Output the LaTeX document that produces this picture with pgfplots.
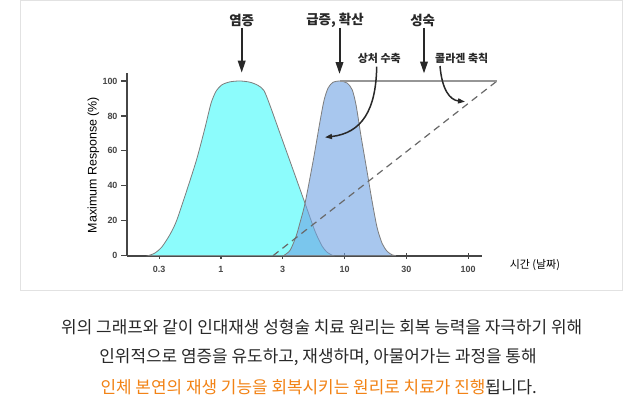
\documentclass[border=0pt]{standalone}
\usepackage{pgfplots}
\pgfplotsset{compat=1.18}
\usepackage{fontspec}
\setmainfont{Liberation Sans}
\newfontfamily\kr{Noto Sans CJK KR}
\usetikzlibrary{arrows.meta}
\definecolor{cyanfill}{RGB}{140,252,252}
\definecolor{bluefill}{RGB}{110,163,227}
\definecolor{edgegray}{RGB}{125,125,125}
\definecolor{axisgray}{RGB}{70,70,70}
\definecolor{boxgray}{RGB}{226,226,226}
\definecolor{txt}{RGB}{40,40,40}
\definecolor{orangetxt}{RGB}{242,130,20}
\begin{document}
\begin{tikzpicture}[x=1bp,y=1bp]
\path[use as bounding box, fill=white] (0,0) rectangle (640,395);
\draw[boxgray, line width=1bp] (20,394) rectangle (622,105);
\begin{axis}[
  at={(127bp,139.3bp)}, anchor=south west,
  scale only axis, width=354.7bp, height=182.4bp,
  xmin=-0.52, xmax=5.22, ymin=0, ymax=104.4,
  axis x line=bottom, axis y line=left,
  axis line style={-, axisgray, line width=1.6bp},
  xtick={0,1,2,3,4,5},
  xticklabels={0.3,1,3,10,30,100},
  ytick={0,20,40,60,80,100},
  xtick align=center, ytick align=outside,
  major tick length=6bp,
  tick style={axisgray, line width=1.2bp},
  tick label style={font=\fontsize{9}{10}\selectfont\bfseries, text=axisgray},
  xticklabel style={yshift=-4bp},
  /pgf/number format/assume math mode=true,
  clip=false,
  xlabel={\kr\fontsize{11}{12}\selectfont 시간 (날짜)},
  xlabel style={at={(axis description cs:1.150,-0.051)}, anchor=center, text=black},
  ylabel={Maximum Response (\%)},
  ylabel style={at={(axis description cs:-0.095,0.497)}, anchor=center, font=\fontsize{12.5}{14}\selectfont, text=black},
]
\addplot[fill=cyanfill, draw=edgegray, line width=0.8bp, smooth, tension=0.45] coordinates {
(-0.178,0) (-0.070,1.5) (0.044,5) (0.173,12) (0.282,20) (0.444,37) (0.606,55)
(0.741,73) (0.838,87) (0.919,94) (1.016,97.8) (1.146,99.5) (1.308,100)
(1.470,99.3) (1.599,97.5) (1.697,94.5) (1.794,86) (1.956,70) (2.159,50)
(2.361,30) (2.523,14) (2.637,5.5) (2.718,2) (2.815,0)
} \closedcycle;
\addplot[fill=bluefill, fill opacity=0.6, draw=edgegray, line width=0.8bp, smooth, tension=0.45] coordinates {
(2.010,0) (2.118,3) (2.215,11) (2.280,19) (2.361,30) (2.496,55) (2.604,77)
(2.669,89) (2.734,96) (2.815,99.3) (2.929,100) (3.043,98.8) (3.124,95)
(3.188,86) (3.269,68) (3.361,49) (3.447,31) (3.528,16) (3.609,7)
(3.690,2.5) (3.771,0.5) (3.836,0)
} \closedcycle;
\addplot[draw={rgb,255:red,105;green,105;blue,105}, line width=1.2bp, dash pattern=on 7bp off 5bp] coordinates {(1.843,0) (5.468,100)};
\addplot[draw={rgb,255:red,150;green,150;blue,150}, line width=1.2bp] coordinates {(2.929,100) (5.468,100)};
\end{axis}
% top labels
\node[font=\kr\fontsize{13.5}{15}\selectfont\bfseries, text=txt] at (241.7,375) {염증};
\node[font=\kr\fontsize{13.5}{15}\selectfont\bfseries, text=txt] at (335,375) {급증, 확산};
\node[font=\kr\fontsize{13.5}{15}\selectfont\bfseries, text=txt] at (422.7,375) {성숙};
\node[font=\kr\fontsize{11}{12}\selectfont\bfseries, text=txt] at (379.3,336.7) {상처 수축};
\node[font=\kr\fontsize{11}{12}\selectfont\bfseries, text=txt] at (461.7,336.7) {콜라겐 축칙};
% straight arrows
\draw[line width=2bp, txt, -{Triangle[length=12bp,width=7.5bp]}] (241.7,367) -- (241.7,322.3);
\draw[line width=2bp, txt, -{Triangle[length=12bp,width=7.5bp]}] (339.5,367) -- (339.5,321);
\draw[line width=2bp, txt, -{Triangle[length=12bp,width=7.5bp]}] (424,367) -- (424,321.5);
% curved arrows
\draw[line width=1.5bp, txt, -{Triangle[length=7bp,width=5bp]}] (376.7,328.3) .. controls (376,285) and (362,262) .. (325,257.7);
\draw[line width=1.5bp, txt, -{Triangle[length=7bp,width=5bp]}] (440,329) .. controls (442,305) and (450,295) .. (465,293.3);
% bottom text
\node[font=\kr\fontsize{17}{19}\selectfont, text=txt] at (321.7,68.2) {위의 그래프와 같이 인대재생 성형술 치료 원리는 회복 능력을 자극하기 위해};
\node[font=\kr\fontsize{17}{19}\selectfont, text=txt] at (318,38) {인위적으로 염증을 유도하고, 재생하며, 아물어가는 과정을 통해};
\node[font=\kr\fontsize{17}{19}\selectfont, text=txt] at (318.7,7.5) {\textcolor{orangetxt}{인체 본연의 재생 기능을 회복시키는 원리로 치료가 진행}됩니다.};
\end{tikzpicture}
\end{document}
